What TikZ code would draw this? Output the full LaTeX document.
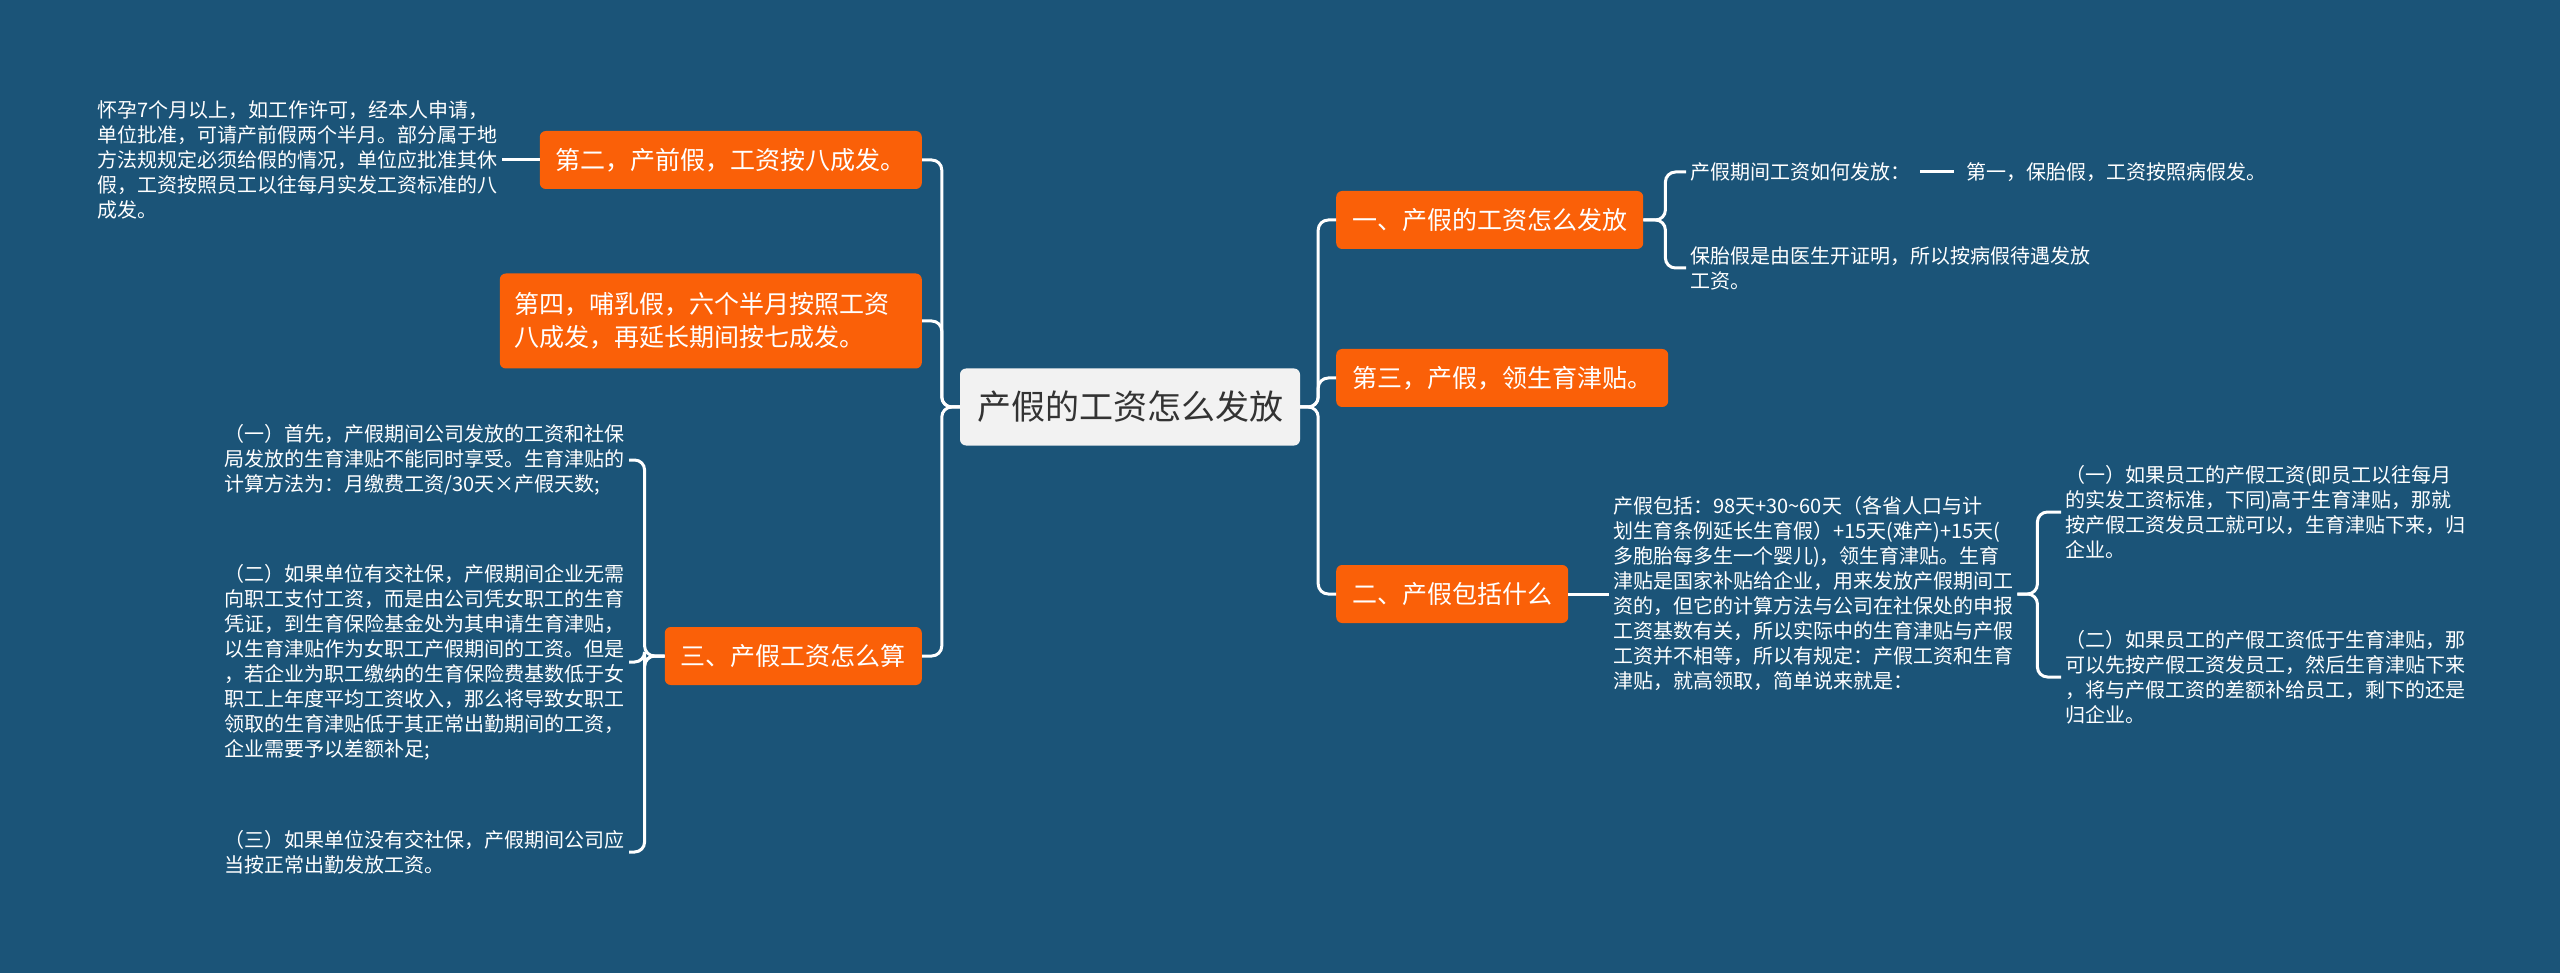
\documentclass[tikz,border=0pt]{standalone}
\usepackage{fontspec}
\setmainfont{Noto Sans CJK SC}
\usetikzlibrary{positioning}
\definecolor{bgblue}{RGB}{27,84,120}
\definecolor{brorange}{RGB}{250,96,8}
\definecolor{rootgray}{RGB}{242,242,242}
\definecolor{rootink}{RGB}{51,51,51}
\tikzset{
  rootblk/.style={fill=rootgray, text=rootink, rounded corners=6pt, minimum width=340pt, minimum height=77pt, align=center, font=\fontsize{34}{40}\selectfont},
  brblk/.style={fill=brorange, text=white, rounded corners=6pt, minimum height=58pt, inner xsep=16pt, align=left, font=\fontsize{25}{33}\selectfont},
  txt/.style={text=white, align=left, inner sep=4pt, font=\fontsize{20}{25}\selectfont},
  conn/.style={draw=white, line width=3pt, rounded corners=10pt},
}
\begin{document}
\begin{tikzpicture}[x=1pt, y=-1pt]

\fill[bgblue] (0,0) rectangle (2560,973);
\useasboundingbox (0,0) rectangle (2560,973);

\node[rootblk] (root) at (1130,407) {产假的工资怎么发放};

\node[brblk, anchor=east] (prenatal) at (922,160) {第二，产前假，工资按八成发。};
\node[brblk, anchor=east, inner xsep=15pt, text width=392pt, minimum height=95pt] (nursing) at (922,321)
  {第四，哺乳假，六个半月按照工资\\八成发，再延长期间按七成发。};
\node[brblk, anchor=east] (calc) at (922,656) {三、产假工资怎么算};
\node[brblk, anchor=west] (wage) at (1336,220) {一、产假的工资怎么发放};
\node[brblk, anchor=west] (allow) at (1336,378) {第三，产假，领生育津贴。};
\node[brblk, anchor=west] (incl) at (1336,594) {二、产假包括什么};

\node[txt, anchor=east] (prenote) at (502,160)
  {怀孕7个月以上，如工作许可，经本人申请，\\单位批准，可请产前假两个半月。部分属于地\\方法规规定必须给假的情况，单位应批准其休\\假，工资按照员工以往每月实发工资标准的八\\成发。};

\node[txt, anchor=west] (howpay) at (1686,172) {产假期间工资如何发放：};
\node[txt, right=48pt of howpay] (first) {第一，保胎假，工资按照病假发。};
\node[txt, anchor=west] (cert) at (1686,268) {保胎假是由医生开证明，所以按病假待遇发放\\工资。};

\node[txt, anchor=west] (incltxt) at (1609,594)
  {产假包括：98天+30\textasciitilde60天（各省人口与计\\划生育条例延长生育假）+15天(难产)+15天(\\多胞胎每多生一个婴儿)，领生育津贴。生育\\津贴是国家补贴给企业，用来发放产假期间工\\资的，但它的计算方法与公司在社保处的申报\\工资基数有关，所以实际中的生育津贴与产假\\工资并不相等，所以有规定：产假工资和生育\\津贴，就高领取，简单说来就是：};
\node[txt, anchor=west] (hi) at (2061,512)
  {（一）如果员工的产假工资(即员工以往每月\\的实发工资标准，下同)高于生育津贴，那就\\按产假工资发员工就可以，生育津贴下来，归\\企业。};
\node[txt, anchor=west] (lo) at (2061,677)
  {（二）如果员工的产假工资低于生育津贴，那\\可以先按产假工资发员工，然后生育津贴下来\\，将与产假工资的差额补给员工，剩下的还是\\归企业。};

\node[txt, anchor=east] (c1) at (629,460)
  {（一）首先，产假期间公司发放的工资和社保\\局发放的生育津贴不能同时享受。生育津贴的\\计算方法为：月缴费工资/30天×产假天数;};
\node[txt, anchor=east] (c2) at (629,662)
  {（二）如果单位有交社保，产假期间企业无需\\向职工支付工资，而是由公司凭女职工的生育\\凭证，到生育保险基金处为其申请生育津贴，\\以生育津贴作为女职工产假期间的工资。但是\\，若企业为职工缴纳的生育保险费基数低于女\\职工上年度平均工资收入，那么将导致女职工\\领取的生育津贴低于其正常出勤期间的工资，\\企业需要予以差额补足;};
\node[txt, anchor=east] (c3) at (629,852)
  {（三）如果单位没有交社保，产假期间公司应\\当按正常出勤发放工资。};

\draw[conn] (root.west) -- ++(-18,0) |- (prenatal.east);
\draw[conn] (root.west) -- ++(-18,0) |- (nursing.east);
\draw[conn] (root.west) -- ++(-18,0) |- (calc.east);
\draw[conn] (root.east) -- ++(18,0) |- (wage.west);
\draw[conn] (root.east) -- ++(18,0) |- (allow.west);
\draw[conn] (root.east) -- ++(18,0) |- (incl.west);

\draw[conn] (prenatal.west) -- (prenote.east);
\draw[conn] (wage.east) -- ++(22,0) |- (howpay.west);
\draw[conn] (wage.east) -- ++(22,0) |- (cert.west);
\draw[conn, shorten <=6pt, shorten >=8pt] (howpay) -- (first);
\draw[conn] (incl.east) -- (incltxt.west);
\draw[conn] (incltxt.east) -- ++(20,0) |- (hi.west);
\draw[conn] (incltxt.east) -- ++(20,0) |- (lo.west);
\draw[conn] (calc.west) -- ++(-20,0) |- (c1.east);
\draw[conn] (calc.west) -- ++(-20,0) |- (c2.east);
\draw[conn] (calc.west) -- ++(-20,0) |- (c3.east);

\end{tikzpicture}
\end{document}
